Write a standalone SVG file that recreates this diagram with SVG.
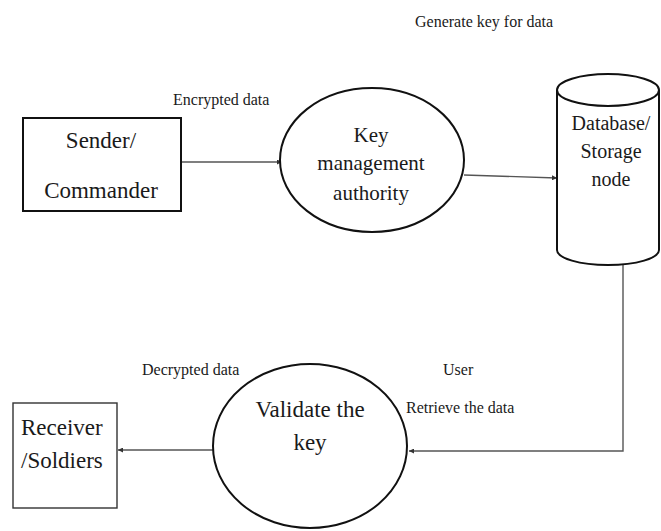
<svg xmlns="http://www.w3.org/2000/svg" width="661" height="531" viewBox="0 0 661 531" font-family="Liberation Serif, Times New Roman, serif">
<defs>
<marker id="arr" viewBox="0 0 10 10" refX="10" refY="5" markerWidth="5" markerHeight="5" orient="auto" markerUnits="userSpaceOnUse">
<path d="M0,0 L10,5 L0,10 z" fill="#333"/>
</marker>
</defs>
<style>
.node{fill:#fff;stroke:#111;stroke-width:2}
.thin{fill:#fff;stroke:#333;stroke-width:1.4}
.conn{fill:none;stroke:#555;stroke-width:1.4}
text{fill:#1a1a1a}
.t{text-anchor:middle}
.lbl{font-size:16px}
.big{font-size:23px}
.mid{font-size:21px}
.db{font-size:20px}
</style>
<rect width="661" height="531" fill="#fff"/>
<g id="connectors">
<line class="conn" x1="181" y1="162" x2="282" y2="162" marker-end="url(#arr)"/>
<line class="conn" x1="464" y1="175" x2="557" y2="178" marker-end="url(#arr)"/>
<polyline class="conn" points="623,265 623,451 409,451" marker-end="url(#arr)"/>
<line class="conn" x1="213" y1="450" x2="118" y2="450" marker-end="url(#arr)"/>
</g>
<g id="labels" font-family="Liberation Serif, serif">
<text class="lbl" x="173" y="105">Encrypted data</text>
<text class="lbl" x="415" y="27">Generate key for data</text>
<text class="lbl" x="142" y="375">Decrypted data</text>
<text class="lbl" x="443" y="375">User</text>
<text class="lbl" x="406" y="413">Retrieve the data</text>
</g>
<g id="sender" font-family="Liberation Serif, serif">
<rect class="node" x="23" y="118" width="158" height="93"/>
<text class="t big" x="101" y="148">Sender/</text>
<text class="t big" x="101" y="198">Commander</text>
</g>
<g id="kma" font-family="Liberation Serif, serif">
<ellipse class="node" cx="372" cy="160" rx="92" ry="72"/>
<text class="t mid" x="371" y="142">Key</text>
<text class="t mid" x="371" y="170">management</text>
<text class="t mid" x="371" y="200">authority</text>
</g>
<g id="database" font-family="Liberation Serif, serif">
<path class="node" d="M557,90 V250 A51,15 0 0 0 659,250 V90"/>
<ellipse class="node" cx="608" cy="90" rx="51" ry="16"/>
<text class="t db" x="611" y="130">Database/</text>
<text class="t db" x="611" y="158">Storage</text>
<text class="t db" x="611" y="186">node</text>
</g>
<g id="validate" font-family="Liberation Serif, serif">
<ellipse class="node" cx="310" cy="446" rx="97" ry="82"/>
<text class="t big" x="310" y="417">Validate the</text>
<text class="t big" x="310" y="450">key</text>
</g>
<g id="receiver" font-family="Liberation Serif, serif">
<rect class="thin" x="13" y="403" width="104" height="105"/>
<text class="big" x="21" y="435">Receiver</text>
<text class="big" x="21" y="468">/Soldiers</text>
</g>
</svg>
